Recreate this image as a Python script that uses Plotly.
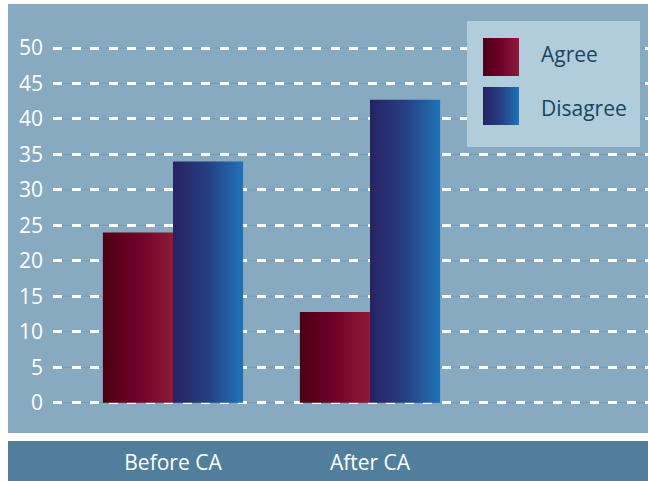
import plotly.graph_objects as go

# ---- data ----
categories = ["Before CA", "After CA"]
agree = [24, 12.8]
disagree = [34, 42.7]
y_ticks = [0, 5, 10, 15, 20, 25, 30, 35, 40, 45, 50]
series_names = ["Agree", "Disagree"]

# ---- style ----
W, H = 648, 481
FONT = "Open Sans"
panel_col = "#87aac0"
band_col = "#517f9b"
legend_bg = "#b1cddc"
legend_txt = "#184660"
thin_grid = "#6d9dc2"
agree_scale = [[0, "#4b0012"], [0.45, "#6c0027"], [1, "#8f1a3a"]]
disagree_scale = [[0, "#272262"], [0.5, "#263f83"], [1, "#1f73b6"]]
scales = [agree_scale, disagree_scale]
bw = 0.356  # bar width in category units

fig = go.Figure()

# bars (gradient-filled shapes drawn in data space)
for s, vals in enumerate([agree, disagree]):
    for i, v in enumerate(vals):
        x0 = i - bw + s * bw
        x1 = x0 + bw
        fig.add_trace(go.Scatter(
            x=[x0, x1, x1, x0, x0], y=[0, 0, v, v, 0],
            mode="lines", line=dict(width=0), fill="toself",
            fillgradient=dict(type="horizontal", colorscale=scales[s]),
            hoverinfo="skip", showlegend=False, xaxis="x", yaxis="y"))

# legend (pixel-space overlay axes)
box = dict(x0=467, x1=640, y0=21, y1=147)
fig.add_trace(go.Scatter(
    x=[box["x0"], box["x1"], box["x1"], box["x0"], box["x0"]],
    y=[box["y0"], box["y0"], box["y1"], box["y1"], box["y0"]],
    mode="lines", line=dict(width=0), fill="toself", fillcolor=legend_bg,
    hoverinfo="skip", showlegend=False, xaxis="x2", yaxis="y2"))
sw_top = [38, 87]
sw_h = 38
text_mid = [54, 108]
for s, name in enumerate(series_names):
    t = sw_top[s]
    fig.add_trace(go.Scatter(
        x=[483, 519, 519, 483, 483], y=[t, t, t + sw_h, t + sw_h, t],
        mode="lines", line=dict(width=0), fill="toself",
        fillgradient=dict(type="horizontal", colorscale=scales[s]),
        hoverinfo="skip", showlegend=False, xaxis="x2", yaxis="y2"))
    fig.add_annotation(x=539, y=text_mid[s], xref="x2", yref="y2",
                       text=name, showarrow=False, xanchor="left", yanchor="middle",
                       font=dict(family=FONT, size=21, color=legend_txt))

shapes = [
    dict(type="rect", xref="paper", yref="paper", x0=8 / W, x1=1, y0=1 - 433 / H, y1=1 - 4 / H,
         fillcolor=panel_col, line=dict(width=0), layer="below"),
    dict(type="rect", xref="paper", yref="paper", x0=8 / W, x1=1, y0=0, y1=1 - 441 / H,
         fillcolor=band_col, line=dict(width=0), layer="below"),
]
for t in y_ticks:
    shapes.append(dict(type="line", xref="x domain", yref="y", x0=0, x1=1, y0=t, y1=t,
                       line=dict(color=thin_grid, width=1), layer="below"))

px_per_unit = 7.094
zero_px = 402.7
fig.update_layout(
    width=W, height=H,
    margin=dict(l=0, r=0, t=0, b=0),
    paper_bgcolor="white", plot_bgcolor="rgba(0,0,0,0)",
    showlegend=False,
    shapes=shapes,
    xaxis=dict(domain=[53 / W, 1], range=[-120 / 197, 1 + 278 / 197],
               tickmode="array", tickvals=list(range(len(categories))), ticktext=categories,
               showgrid=False, zeroline=False, showline=False, ticks="",
               ticklabelstandoff=15, automargin=False, fixedrange=True,
               tickfont=dict(family=FONT, size=21, color="white")),
    yaxis=dict(domain=[48 / H, 1 - 4 / H],
               range=[-(433 - zero_px) / px_per_unit, (zero_px - 4) / px_per_unit],
               tickmode="array", tickvals=y_ticks,
               showgrid=True, gridcolor="white", gridwidth=2.5, griddash="9px,9.5px",
               zeroline=False, showline=False, ticks="", ticklabelstandoff=9,
               automargin=False, fixedrange=True,
               tickfont=dict(family=FONT, size=21, color="white")),
    xaxis2=dict(domain=[0, 1], range=[0, W], anchor="y2", visible=False, fixedrange=True),
    yaxis2=dict(domain=[0, 1], range=[H, 0], anchor="x2", visible=False, fixedrange=True),
)

fig.write_html("out.html", config={"displayModeBar": False},
               post_script="document.body.style.margin='0';document.body.style.overflow='hidden';")
